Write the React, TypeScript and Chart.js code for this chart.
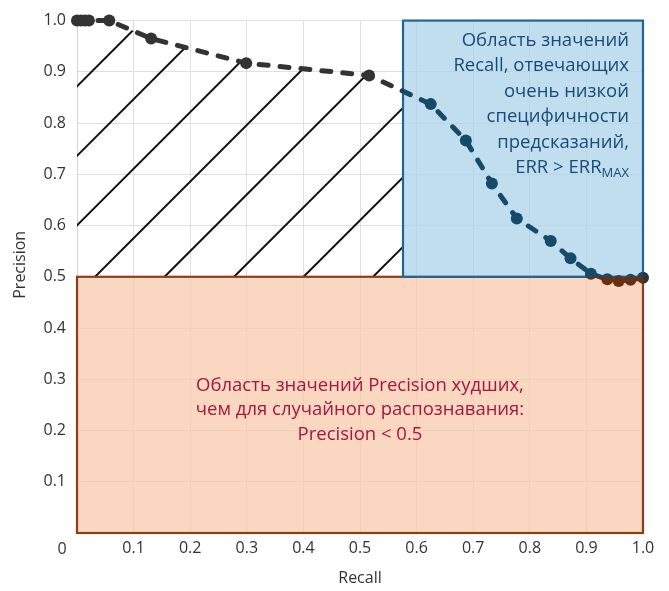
import React, { useEffect, useRef } from "react";
import { Chart, registerables } from "chart.js";

Chart.register(...registerables);

// ---- data ----
const recall = [0, 0.007, 0.014, 0.021, 0.057, 0.131, 0.299, 0.516, 0.625, 0.687, 0.733, 0.777, 0.837, 0.872, 0.908, 0.937, 0.957, 0.978, 1.0];
const precision = [1.0, 1.0, 1.0, 1.0, 1.0, 0.965, 0.917, 0.893, 0.837, 0.766, 0.682, 0.614, 0.57, 0.536, 0.506, 0.495, 0.492, 0.494, 0.498];
const tickValues = [0, 0.1, 0.2, 0.3, 0.4, 0.5, 0.6, 0.7, 0.8, 0.9, 1.0];
const tickLabels = ["0", "0.1", "0.2", "0.3", "0.4", "0.5", "0.6", "0.7", "0.8", "0.9", "1.0"];
const RANDOM_PRECISION = 0.5;
const ERR_MAX_RECALL = 0.576;
const xTitle = "Recall";
const yTitle = "Precision";
const lowPrecisionText = ["Область значений Precision худших,", "чем для случайного распознавания:", "Precision < 0.5"];
const lowSpecText = ["Область значений", "Recall, отвечающих", "очень низкой", "специфичности", "предсказаний,"];
const errMain = "ERR > ERR";
const errSub = "MAX";
const regions = ["plain", "blue", "low"];
const regionColors = ["#333333", "#154a68", "#6a2f12"];

const FONT = "'Open Sans', 'Noto Sans', sans-serif";

function labelFor(v: number) {
  const i = tickValues.findIndex((t) => Math.abs(t - v) < 1e-6);
  if (i <= 0) return "";
  return tickLabels[i];
}

const regionPlugin = {
  id: "regions",
  beforeDatasetsDraw(chart: any) {
    const { ctx, chartArea: a, scales } = chart;
    const x = scales.x;
    const y = scales.y;
    const yHalf = y.getPixelForValue(RANDOM_PRECISION);
    const xErr = x.getPixelForValue(ERR_MAX_RECALL);

    // hatch below the curve, above random precision, left of ERR box
    ctx.save();
    ctx.beginPath();
    ctx.rect(a.left, a.top - 20, xErr - a.left, yHalf - a.top + 20);
    ctx.clip();
    ctx.beginPath();
    recall.forEach((r, i) => {
      const px = x.getPixelForValue(r);
      const py = y.getPixelForValue(precision[i]);
      if (i === 0) ctx.moveTo(px, py);
      else ctx.lineTo(px, py);
    });
    ctx.lineTo(x.getPixelForValue(recall[recall.length - 1]), a.bottom);
    ctx.lineTo(x.getPixelForValue(recall[0]), a.bottom);
    ctx.closePath();
    ctx.clip();
    ctx.strokeStyle = "#111111";
    ctx.lineWidth = 2;
    const spacing = 69.5;
    const anchor = xErr - 30;
    const L = 800;
    ctx.beginPath();
    for (let k = -15; k <= 5; k++) {
      const x0 = anchor + k * spacing;
      ctx.moveTo(x0 - L, yHalf + L);
      ctx.lineTo(x0 + L, yHalf - L);
    }
    ctx.stroke();
    ctx.restore();

    // low precision box
    ctx.save();
    ctx.fillStyle = "rgba(248, 200, 168, 0.72)";
    ctx.fillRect(a.left, yHalf, a.right - a.left, a.bottom - yHalf);
    ctx.strokeStyle = "#8e3d18";
    ctx.lineWidth = 2.2;
    ctx.strokeRect(a.left, yHalf, a.right - a.left, a.bottom - yHalf);
    // ERR box
    ctx.fillStyle = "rgba(172, 210, 233, 0.74)";
    ctx.fillRect(xErr, a.top, a.right - xErr, yHalf - a.top);
    ctx.strokeStyle = "#1f6791";
    ctx.lineWidth = 2.2;
    ctx.strokeRect(xErr, a.top, a.right - xErr, yHalf - a.top);
    ctx.restore();
  },
  beforeDatasetDraw(chart: any, args: any) {
    const { ctx, chartArea: a, scales, width, height } = chart;
    const yHalf = scales.y.getPixelForValue(RANDOM_PRECISION);
    const xErr = scales.x.getPixelForValue(ERR_MAX_RECALL);
    const region = regions[args.index];
    ctx.save();
    ctx.beginPath();
    if (region === "plain") {
      ctx.rect(0, 0, width, height);
      ctx.rect(xErr, a.top, a.right - xErr, yHalf - a.top);
      ctx.rect(a.left, yHalf, a.right - a.left, a.bottom - yHalf);
      ctx.clip("evenodd");
    } else if (region === "blue") {
      ctx.rect(xErr, a.top, a.right - xErr, yHalf - a.top);
      ctx.clip();
    } else {
      ctx.rect(a.left, yHalf, a.right - a.left, a.bottom - yHalf);
      ctx.clip();
    }
  },
  afterDatasetDraw(chart: any) {
    chart.ctx.restore();
  },
  afterDatasetsDraw(chart: any) {
    const { ctx, chartArea: a, scales } = chart;
    const yHalf = scales.y.getPixelForValue(RANDOM_PRECISION);
    ctx.save();
    // low precision text
    ctx.font = `18.5px ${FONT}`;
    ctx.fillStyle = "#a8153f";
    ctx.textAlign = "center";
    ctx.textBaseline = "alphabetic";
    const cx = (a.left + a.right) / 2;
    const cy = (yHalf + a.bottom) / 2;
    lowPrecisionText.forEach((t, i) => {
      ctx.fillText(t, cx, cy - 14 + i * 24.5);
    });
    // ERR text
    ctx.fillStyle = "#174c7a";
    ctx.textAlign = "right";
    const rx = a.right - 14;
    lowSpecText.forEach((t, i) => {
      ctx.fillText(t, rx, a.top + 25 + i * 25.5);
    });
    const by = a.top + 25 + lowSpecText.length * 25.5;
    ctx.font = `13px ${FONT}`;
    const subW = ctx.measureText(errSub).width;
    ctx.fillText(errSub, rx, by + 4);
    ctx.font = `18.5px ${FONT}`;
    ctx.fillText(errMain, rx - subW, by);

    // corner zero label
    ctx.fillStyle = "#333333";
    ctx.font = `16px ${FONT}`;
    ctx.textAlign = "center";
    ctx.textBaseline = "middle";
    ctx.fillText(tickLabels[0], a.left - 15, a.bottom + 16);

    // y title
    ctx.font = `16px ${FONT}`;
    ctx.translate(20, (a.top + a.bottom) / 2 - 12);
    ctx.rotate(-Math.PI / 2);
    ctx.fillText(yTitle, 0, 0);
    ctx.restore();
  },
};

export default function App() {
  const ref = useRef<HTMLCanvasElement | null>(null);
  useEffect(() => {
    if (!ref.current) return;
    const points = recall.map((r, i) => ({ x: r, y: precision[i] }));
    const datasets = regions.map((_, i) => ({
      data: points,
      borderColor: regionColors[i],
      backgroundColor: regionColors[i],
      pointBackgroundColor: regionColors[i],
      pointBorderWidth: 0,
      pointRadius: 6,
      borderWidth: 5,
      borderDash: [9, 12],
      borderCapStyle: "round" as const,
      tension: 0,
      clip: false as const,
      showLine: true,
    }));
    const chart = new Chart(ref.current, {
      type: "scatter",
      data: { datasets },
      options: {
        animation: false,
        responsive: false,
        devicePixelRatio: 1,
        layout: { padding: { left: 0, right: 26, top: 17, bottom: 0 } },
        plugins: { legend: { display: false }, tooltip: { enabled: false } },
        scales: {
          x: {
            type: "linear",
            min: 0,
            max: 1,
            afterBuildTicks: (s: any) => {
              s.ticks = tickValues.map((v) => ({ value: v }));
            },
            afterFit: (s: any) => {
              s.height = 58;
            },
            ticks: {
              callback: (v: any) => labelFor(Number(v)),
              color: "#333333",
              font: { family: FONT, size: 16 },
              padding: 6,
              maxRotation: 0,
              autoSkip: false,
            },
            grid: { color: "#e0e0e0", lineWidth: 1, drawTicks: false },
            border: { color: "#d4d4d4" },
            title: {
              display: true,
              text: xTitle,
              color: "#333333",
              font: { family: FONT, size: 16 },
              padding: { top: 0, bottom: 3 },
            },
          },
          y: {
            type: "linear",
            min: 0,
            max: 1,
            afterBuildTicks: (s: any) => {
              s.ticks = tickValues.map((v) => ({ value: v }));
            },
            afterFit: (s: any) => {
              s.width = 77;
            },
            ticks: {
              callback: (v: any) => labelFor(Number(v)),
              color: "#333333",
              font: { family: FONT, size: 16 },
              padding: 11,
              autoSkip: false,
            },
            grid: { color: "#e0e0e0", lineWidth: 1, drawTicks: false },
            border: { color: "#d4d4d4" },
          },
        },
      },
      plugins: [regionPlugin],
    });
    return () => chart.destroy();
  }, []);
  return (
    <div style={{ position: "absolute", left: 0, top: 0, width: 669, height: 591 }}>
      <canvas ref={ref} width={669} height={591} style={{ display: "block" }} />
    </div>
  );
}
